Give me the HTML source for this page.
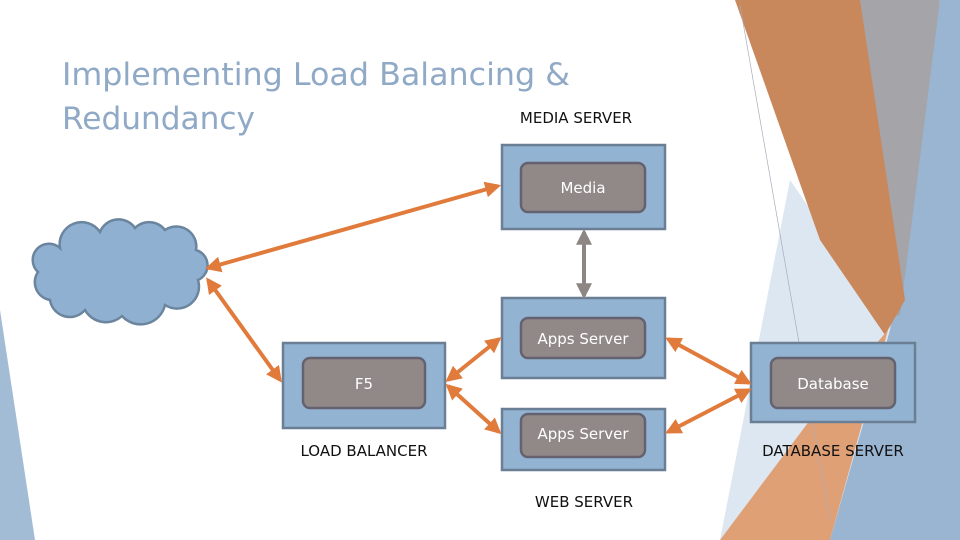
<html><body style="margin:0;width:960px;height:540px;overflow:hidden;background:#fff">
<svg width="960" height="540" viewBox="0 0 960 540" xmlns="http://www.w3.org/2000/svg" style="font-family:'DejaVu Sans','Liberation Sans',sans-serif">
<defs>
<marker id="a" viewBox="0 0 10 10" refX="8" refY="5" markerWidth="4" markerHeight="4" orient="auto-start-reverse"><path d="M0,0 L10,5 L0,10 z" fill="#e07b3c"/></marker>
<marker id="g" viewBox="0 0 10 10" refX="8" refY="5" markerWidth="4" markerHeight="4" orient="auto-start-reverse"><path d="M0,0 L10,5 L0,10 z" fill="#8e8585"/></marker>
</defs>
<!-- background decoration -->
<polygon points="0,310 0,540 35,540" fill="#a3bcd6"/>
<polygon points="790,180 900,340 860,540 720,540" fill="#dde7f1"/>
<polygon points="940,0 960,0 960,540 830,540 890,330" fill="#9ab5d1"/>
<polygon points="860,0 940,0 900,315 880,320" fill="#a4a4a9"/>
<polygon points="735,0 860,0 905,300 885,335 820,240" fill="#c9875c"/>
<polygon points="888,330 830,540 720,540 810,420" fill="#e0a076"/>
<line x1="740" y1="5" x2="830" y2="520" stroke="#aab" stroke-width="0.7"/>
<!-- title -->
<text x="62" y="85" font-size="31" fill="#8fa9c6" textLength="508" lengthAdjust="spacingAndGlyphs">Implementing Load Balancing &amp;</text>
<text x="62" y="129" font-size="31" fill="#8fa9c6" textLength="193" lengthAdjust="spacingAndGlyphs">Redundancy</text>
<!-- labels -->
<g font-size="15" fill="#111" text-anchor="middle">
<text x="576" y="123">MEDIA SERVER</text>
<text x="364" y="456">LOAD BALANCER</text>
<text x="584" y="507">WEB SERVER</text>
<text x="833" y="456">DATABASE SERVER</text>
</g>
<!-- cloud -->
<path d="M50,300 A18,18 0 0 1 38,272 A16,16 0 0 1 60,248 A22,22 0 0 1 100,232 A20,20 0 0 1 135,228 A20,20 0 0 1 165,230 A20,20 0 0 1 196,250 A16,16 0 0 1 198,280 A22,22 0 0 1 165,305 A25,25 0 0 1 122,316 A24,24 0 0 1 85,310 A20,20 0 0 1 50,300 Z" fill="#8fb0d0" stroke="#6b859e" stroke-width="2.5"/>
<!-- boxes -->
<g fill="#93b3d3" stroke="#6b7f94" stroke-width="2.5">
<rect x="502" y="145" width="163" height="84"/>
<rect x="502" y="298" width="163" height="80"/>
<rect x="502" y="409" width="163" height="61"/>
<rect x="283" y="343" width="162" height="85"/>
<rect x="751" y="343" width="164" height="79"/>
</g>
<g fill="#918888" stroke="#656270" stroke-width="2.5">
<rect x="521" y="163" width="124" height="49" rx="7"/>
<rect x="521" y="318" width="124" height="40" rx="7"/>
<rect x="521" y="414" width="124" height="43" rx="7"/>
<rect x="303" y="358" width="122" height="50" rx="7"/>
<rect x="771" y="358" width="124" height="50" rx="7"/>
</g>
<g font-size="15" fill="#fff" text-anchor="middle">
<text x="583" y="193">Media</text>
<text x="583" y="344">Apps Server</text>
<text x="583" y="439">Apps Server</text>
<text x="364" y="389">F5</text>
<text x="833" y="389">Database</text>
</g>
<!-- arrows -->
<g stroke="#e07b3c" stroke-width="4" marker-start="url(#a)" marker-end="url(#a)">
<line x1="208" y1="268" x2="498" y2="186"/>
<line x1="208" y1="280" x2="280" y2="380"/>
<line x1="448" y1="380" x2="499" y2="339"/>
<line x1="448" y1="386" x2="499" y2="432"/>
<line x1="668" y1="339" x2="749" y2="383"/>
<line x1="668" y1="432" x2="749" y2="390"/>
</g>
<line x1="584" y1="232" x2="584" y2="296" stroke="#8e8585" stroke-width="4" marker-start="url(#g)" marker-end="url(#g)"/>
</svg>
</body></html>
